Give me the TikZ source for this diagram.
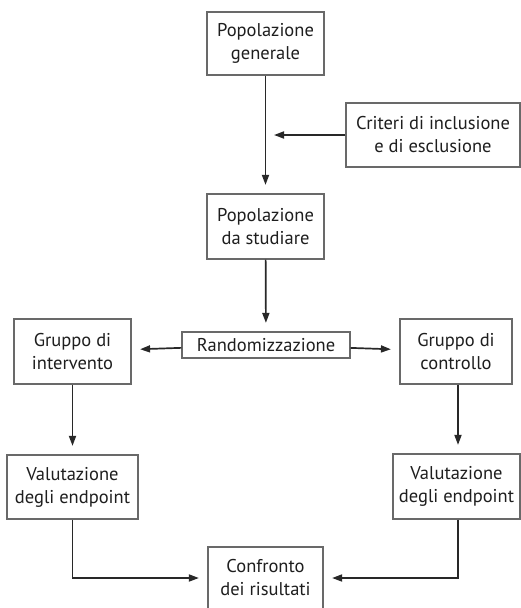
\documentclass[tikz,border=0pt]{standalone}
\usepackage{fontspec}
\setmainfont{PT Sans}
\usetikzlibrary{arrows.meta, calc}
\definecolor{boxgray}{RGB}{105,105,105}
\definecolor{linegray}{RGB}{40,40,40}
\definecolor{textgray}{RGB}{30,30,30}
\tikzset{
  box/.style={draw=boxgray, line width=1.2pt, inner sep=0pt, align=center,
    text=textgray, font=\fontsize{18.5}{23}\selectfont},
  flow/.style={draw=linegray, line width=1.7pt,
    -{Triangle[length=10pt,width=7pt]}, shorten >=8.5pt}
}

\begin{document}
\begin{tikzpicture}[x=1pt, y=-1pt]
  \useasboundingbox (0,0) rectangle (521,608);
  % main column
  \node[box, minimum width=117pt, minimum height=63pt] (popgen) at (265.5,43.5) {Popolazione\\generale};
  \node[box, minimum width=174pt, minimum height=64pt] (criteri) at (433,135) {Criteri di inclusione\\e di esclusione};
  \node[box, minimum width=117pt, minimum height=65pt] (popstud) at (265.5,226.5) {Popolazione\\da studiare};
  \node[box, minimum width=168pt, minimum height=26pt] (random) at (266,345) {Randomizzazione};
  % the two arms
  \node[box, minimum width=117pt, minimum height=65pt] (interv) at (72.5,351.5) {Gruppo di\\intervento};
  \node[box, minimum width=112pt, minimum height=65pt] (control) at (456,351.5) {Gruppo di\\controllo};
  \node[box, minimum width=131pt, minimum height=64pt] (valint) at (72.5,487) {Valutazione\\degli endpoint};
  \node[box, minimum width=127pt, minimum height=65pt] (valcon) at (456.5,486.5) {Valutazione\\degli endpoint};
  \node[box, minimum width=115pt, minimum height=62pt] (confronto) at (265.5,578) {Confronto\\dei risultati};
  \coordinate (join) at (popgen.south |- criteri.west);

  \draw[flow] (popgen) -- (popstud);
  \draw[flow] (criteri) -- (join);
  \draw[flow] (popstud) -- (random);
  \draw[flow] (random) -- (interv);
  \draw[flow] (random) -- (control);
  \draw[flow] (interv) -- (valint);
  \draw[flow] ($(control.south)+(2,0)$) -- ($(valcon.north)+(1.5,0)$);
  \draw[flow] (valint.south) |- (confronto.west);
  \draw[flow] ($(valcon.south)+(1.5,0)$) |- (confronto.east);
\end{tikzpicture}
\end{document}
